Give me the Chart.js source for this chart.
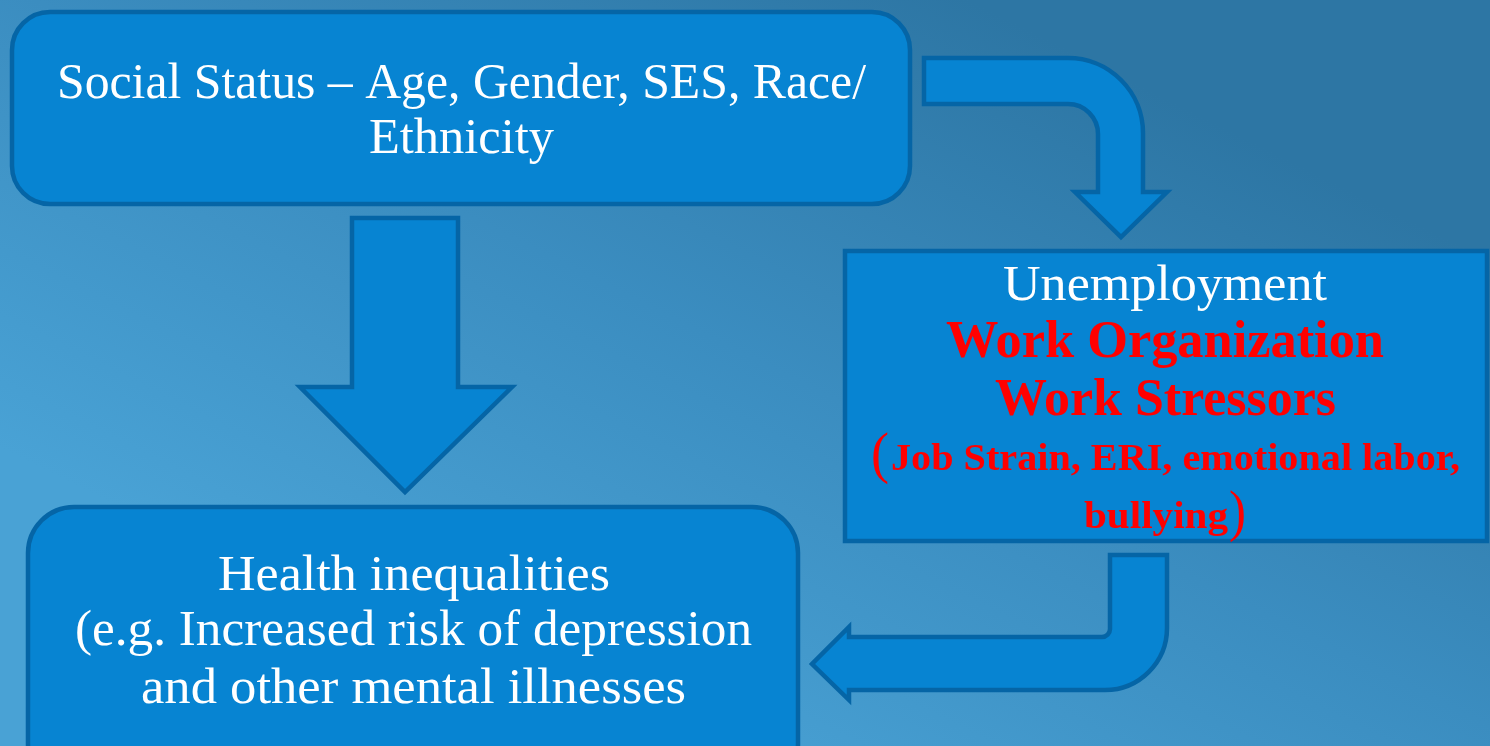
<!DOCTYPE html>
<html>
<head>
<meta charset="utf-8">
<script src="https://cdn.jsdelivr.net/npm/chart.js@4/dist/chart.umd.min.js"></script>
<style>
  body { margin: 0; background: #3a8cbe; }
  #wrap { width: 1490px; height: 746px; }
</style>
</head>
<body>
<div id="wrap"><canvas id="myChart" width="1490" height="746"></canvas></div>
<script>
// text of the three boxes
const statusLines = ['Social Status \u2013 Age, Gender, SES, Race/', 'Ethnicity'];
const workLines = ['Unemployment', 'Work Organization', 'Work Stressors', 'Job Strain, ERI, emotional labor,', 'bullying'];
const healthLines = ['Health inequalities', '(e.g. Increased risk of depression', 'and other mental illnesses'];

// layout in diagram units (x 0..1490, y 0..746 from top)
const boxStatus = { x0: 12, y0: 12, x1: 910, y1: 204, r: 38 };
const boxWork = { x0: 845, y0: 251, x1: 1487, y1: 541, r: 0 };
const boxHealth = { x0: 28, y0: 507, x1: 798, y1: 790, r: 46 };

const fill = '#0784d2';
const edge = '#0565a6';
const red = '#ff0000';

const diagramPlugin = {
    id: 'diagram',
    beforeDraw(chart) {
        const c = chart.ctx;
        // mostly top-to-bottom, a little darker in the top right
        const g = c.createLinearGradient(chart.width * 0.65, 0, chart.width * 0.4, chart.height);
        g.addColorStop(0, '#2d76a4');
        g.addColorStop(0.5, '#3b8dc0');
        g.addColorStop(1, '#49a2d5');
        c.fillStyle = g;
        c.fillRect(0, 0, chart.width, chart.height);
    },
    afterDatasetsDraw(chart) {
        const c = chart.ctx;
        const sx = chart.scales.x, sy = chart.scales.y;
        const X = v => sx.getPixelForValue(v);
        const Y = v => sy.getPixelForValue(v);

        function paint() {
            c.fillStyle = fill;
            c.fill();
            c.lineWidth = 4.5;
            c.strokeStyle = edge;
            c.lineJoin = 'miter';
            c.stroke();
        }

        function box(b) {
            c.beginPath();
            if (b.r) {
                c.roundRect(X(b.x0), Y(b.y0), X(b.x1) - X(b.x0), Y(b.y1) - Y(b.y0), b.r);
            } else {
                c.rect(X(b.x0), Y(b.y0), X(b.x1) - X(b.x0), Y(b.y1) - Y(b.y0));
            }
            paint();
        }

        // straight down arrow
        c.beginPath();
        c.moveTo(X(352), Y(218));
        c.lineTo(X(458), Y(218));
        c.lineTo(X(458), Y(387));
        c.lineTo(X(512), Y(387));
        c.lineTo(X(405), Y(492));
        c.lineTo(X(300), Y(387));
        c.lineTo(X(352), Y(387));
        c.closePath();
        paint();

        // bent arrow top right
        c.beginPath();
        c.moveTo(X(924), Y(58));
        c.arcTo(X(1143), Y(58), X(1143), Y(192), 75);
        c.lineTo(X(1143), Y(192));
        c.lineTo(X(1167), Y(192));
        c.lineTo(X(1121), Y(237));
        c.lineTo(X(1075), Y(192));
        c.lineTo(X(1098), Y(192));
        c.arcTo(X(1098), Y(104), X(924), Y(104), 30);
        c.lineTo(X(924), Y(104));
        c.closePath();
        paint();

        // bent arrow bottom right
        c.beginPath();
        c.moveTo(X(1110), Y(555));
        c.lineTo(X(1167), Y(555));
        c.arcTo(X(1167), Y(690), X(849), Y(690), 62);
        c.lineTo(X(849), Y(690));
        c.lineTo(X(849), Y(700));
        c.lineTo(X(812), Y(664));
        c.lineTo(X(849), Y(627));
        c.lineTo(X(849), Y(637));
        c.arcTo(X(1110), Y(637), X(1110), Y(555), 8);
        c.closePath();
        paint();

        box(boxStatus);
        box(boxWork);
        box(boxHealth);

        // text, fitted to width
        function txt(str, x0, x1, base, font, color) {
            c.font = font;
            const w = c.measureText(str).width;
            const tw = X(x1) - X(x0);
            c.save();
            c.translate((X(x0) + X(x1)) / 2, Y(base));
            c.scale(tw / w, 1);
            c.textAlign = 'center';
            c.textBaseline = 'alphabetic';
            c.fillStyle = color;
            c.fillText(str, 0, 0);
            c.restore();
        }
        const serif = '"Liberation Serif", "DejaVu Serif", serif';

        txt(statusLines[0], 57, 866, 98, '50px ' + serif, '#ffffff');
        txt(statusLines[1], 369, 554, 153, '50px ' + serif, '#ffffff');

        txt(workLines[0], 1003, 1327, 300, '50px ' + serif, '#ffffff');
        txt(workLines[1], 946, 1384, 357, 'bold 52px ' + serif, red);
        txt(workLines[2], 995, 1336, 415, 'bold 52px ' + serif, red);
        txt('(', 871, 889, 472, '56px ' + serif, red);
        txt(workLines[3], 891, 1460, 470, 'bold 38px ' + serif, red);
        txt(workLines[4], 1084, 1228, 528, 'bold 38px ' + serif, red);
        txt(')', 1229, 1246, 530, '56px ' + serif, red);

        txt(healthLines[0], 218, 610, 590, '50px ' + serif, '#ffffff');
        txt(healthLines[1], 75, 752, 645, '50px ' + serif, '#ffffff');
        txt(healthLines[2], 141, 686, 703, '50px ' + serif, '#ffffff');
    }
};

const ctx = document.getElementById('myChart').getContext('2d');
const myChart = new Chart(ctx, {
    type: 'scatter',
    data: { datasets: [{ data: [] }] },
    options: {
        responsive: false,
        animation: false,
        layout: { padding: 0 },
        plugins: { legend: { display: false }, tooltip: { enabled: false } },
        scales: {
            x: { type: 'linear', min: 0, max: 1490, display: false },
            y: { type: 'linear', min: 0, max: 746, reverse: true, display: false }
        }
    },
    plugins: [diagramPlugin]
});
</script>
</body>
</html>
